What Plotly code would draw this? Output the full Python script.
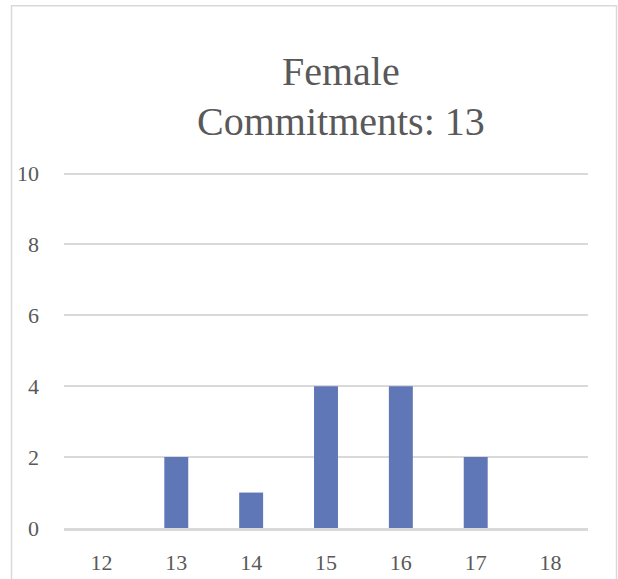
import plotly.graph_objects as go

categories = ["12", "13", "14", "15", "16", "17", "18"]
counts = [0, 2, 1, 4, 4, 2, 0]
y_ticks = [0, 2, 4, 6, 8, 10]
title_line1 = "Female"
title_line2 = "Commitments: 13"

FONT = "Palatino Linotype, Book Antiqua, Palatino, Liberation Serif, serif"
TXT = "#595959"
GRID = "#d9d9d9"

YMAX = 10.1
W, H = 618, 579
L, R, B = 64, 30, 51
unit = 35.4
T = H - B - unit * YMAX
pw = W - L - R
ph = H - T - B

def px(x):
    return (x - L) / pw

def py(y):
    return (H - B - y) / ph

fig = go.Figure(go.Bar(
    x=categories, y=counts,
    marker=dict(color="#5F77B6", line=dict(width=0)),
    width=0.32,
    hoverinfo="x+y",
))

fig.update_layout(
    width=W, height=H,
    margin=dict(l=L, r=R, t=T, b=B, pad=0, autoexpand=False),
    paper_bgcolor="white", plot_bgcolor="white",
    showlegend=False,
    font=dict(family=FONT, color=TXT, size=22),
    xaxis=dict(type="category", showgrid=False, showline=True, linecolor=GRID,
               linewidth=2.5, ticks="", ticklabelstandoff=13, automargin=False,
               tickfont=dict(size=22, color=TXT, family=FONT), zeroline=False),
    yaxis=dict(range=[0, YMAX], tickvals=y_ticks, showgrid=True, gridcolor=GRID,
               gridwidth=1.5, zeroline=False, showline=False, ticks="",
               ticklabelstandoff=24, automargin=False,
               tickfont=dict(size=22, color=TXT, family=FONT)),
    annotations=[
        dict(text=title_line1, x=px(341), y=py(72), xref="paper", yref="paper",
             showarrow=False, xanchor="center", yanchor="middle",
             font=dict(size=40, color=TXT, family=FONT)),
        dict(text=title_line2, x=px(341), y=py(122), xref="paper", yref="paper",
             showarrow=False, xanchor="center", yanchor="middle",
             font=dict(size=40, color=TXT, family=FONT)),
    ],
    shapes=[
        dict(type="rect", xref="paper", yref="paper",
             x0=px(11.5), x1=px(616.5), y0=py(600), y1=py(6.5),
             line=dict(color=GRID, width=1.5), fillcolor="rgba(0,0,0,0)",
             layer="below"),
    ],
)

fig.write_html("out.html", config={"displayModeBar": False},
               post_script="document.body.style.margin='0';")
